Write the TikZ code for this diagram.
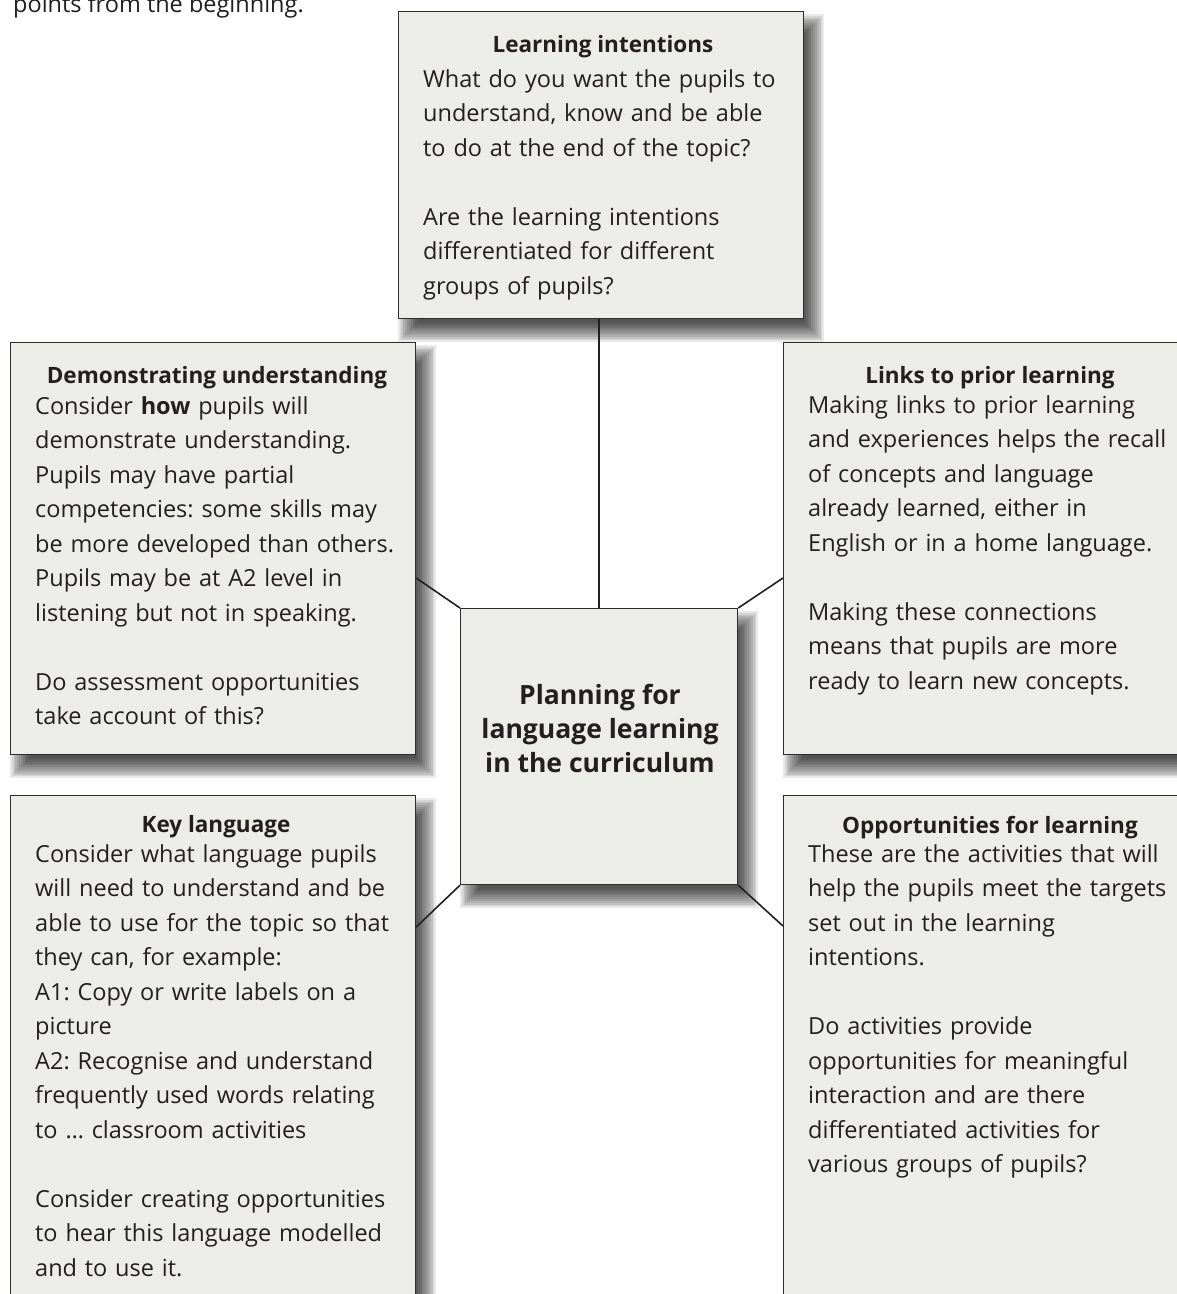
\documentclass[tikz,border=0pt]{standalone}
\usepackage{fontspec}
\setmainfont{Open Sans}
\usetikzlibrary{calc}
\pgfdeclarelayer{background}
\pgfsetlayers{background,main}
\definecolor{boxfill}{RGB}{236,236,232}
\definecolor{boxline}{RGB}{45,45,45}
\definecolor{txt}{RGB}{35,31,32}
\tikzset{
  panel/.style={draw=boxline, line width=1.2pt, fill=boxfill, rectangle, anchor=north west, inner sep=0pt},
  shadowlayer/.style={fill=black, fill opacity=0.085, draw=none},
  ttl/.style={anchor=base, inner sep=0pt, font=\fontsize{22.5}{34.5}\selectfont\bfseries, text=txt},
  bodytext/.style={anchor=base west, inner sep=0pt, text width=385pt, align=left, font=\fontsize{23.5}{34.5}\selectfont\frenchspacing, text=txt},
  link/.style={draw=txt, line width=1.6pt}
}
% soft shadow behind a named node: offset (10,13), blur radius 11
\newcommand\softshadow[1]{%
  \foreach \k in {1,...,12}{%
    \pgfmathsetmacro\ee{11-22*(\k-0.5)/12}%
    \fill[shadowlayer] ($(#1.north west)+(10-\ee,13-\ee)$) rectangle ($(#1.south east)+(10+\ee,13+\ee)$);
  }}
\begin{document}
\begin{tikzpicture}[x=1pt,y=-1pt]
\useasboundingbox (0,0) rectangle (1177,1294);

\node[anchor=base west, inner sep=0pt, font=\fontsize{23.5}{34.5}\selectfont, text=txt] (frag) at (13,12) {points from the beginning.};

\node[panel, minimum width=405, minimum height=307] (top) at (398,11) {};
\node[panel, minimum width=405, minimum height=412] (dem) at (10,342) {};
\node[panel, minimum width=420, minimum height=412] (links) at (783,342) {};
\node[panel, minimum width=405, minimum height=540] (key) at (10,795) {};
\node[panel, minimum width=420, minimum height=540] (opp) at (783,795) {};
\node[panel, minimum width=277, minimum height=276] (center) at (460,608) {};

\begin{pgfonlayer}{background}
  \fill[white] (0,0) rectangle (1177,1294);
  \softshadow{top}
  \softshadow{dem}
  \softshadow{links}
  \softshadow{key}
  \softshadow{opp}
  \softshadow{center}
\end{pgfonlayer}

% texts
\node[ttl] (top-t) at (603,52) {Learning intentions};
\node[bodytext] (top-b) at (423,87) {What do you want the pupils to\\
understand, know and be able\\
to do at the end of the topic?\\[34.5pt]
Are the learning intentions\\
differentiated for different\\
groups of pupils?};

\node[ttl] (dem-t) at (217,383) {Demonstrating understanding};
\node[bodytext] (dem-b) at (35,414) {Consider \textbf{how} pupils will\\
demonstrate understanding.\\
Pupils may have partial\\
competencies: some skills may\\
be more developed than others.\\
Pupils may be at A2 level in\\
listening but not in speaking.\\[34.5pt]
Do assessment opportunities\\
take account of this?};

\node[ttl] (links-t) at (990,383) {Links to prior learning};
\node[bodytext] (links-b) at (808,413) {Making links to prior learning\\
and experiences helps the recall\\
of concepts and language\\
already learned, either in\\
English or in a home language.\\[34.5pt]
Making these connections\\
means that pupils are more\\
ready to learn new concepts.};

\node[ttl] (key-t) at (216,832) {Key language};
\node[bodytext] (key-b) at (35,862) {Consider what language pupils\\
will need to understand and be\\
able to use for the topic so that\\
they can, for example:\\
A1: Copy or write labels on a\\
picture\\
A2: Recognise and understand\\
frequently used words relating\\
to … classroom activities\\[34.5pt]
Consider creating opportunities\\
to hear this language modelled\\
and to use it.};

\node[ttl] (opp-t) at (990,833) {Opportunities for learning};
\node[bodytext] (opp-b) at (808,862) {These are the activities that will\\
help the pupils meet the targets\\
set out in the learning\\
intentions.\\[34.5pt]
Do activities provide\\
opportunities for meaningful\\
interaction and are there\\
differentiated activities for\\
various groups of pupils?};

\node[anchor=base, inner sep=0pt, align=center, text=txt, font=\fontsize{26.5}{34}\selectfont\bfseries] (center-t) at (600,772) {Planning for\\language learning\\in the curriculum};

% connectors
\draw[link] (center.north) -- (center.north |- top.south);
\draw[link] ($(dem.north east)+(0,236)$) -- (center.north west);
\draw[link] ($(links.north west)+(0,236)$) -- (center.north east);
\draw[link] ($(key.north east)+(0,132)$) -- (center.south west);
\draw[link] ($(opp.north west)+(0,131)$) -- (center.south east);
\end{tikzpicture}
\end{document}
